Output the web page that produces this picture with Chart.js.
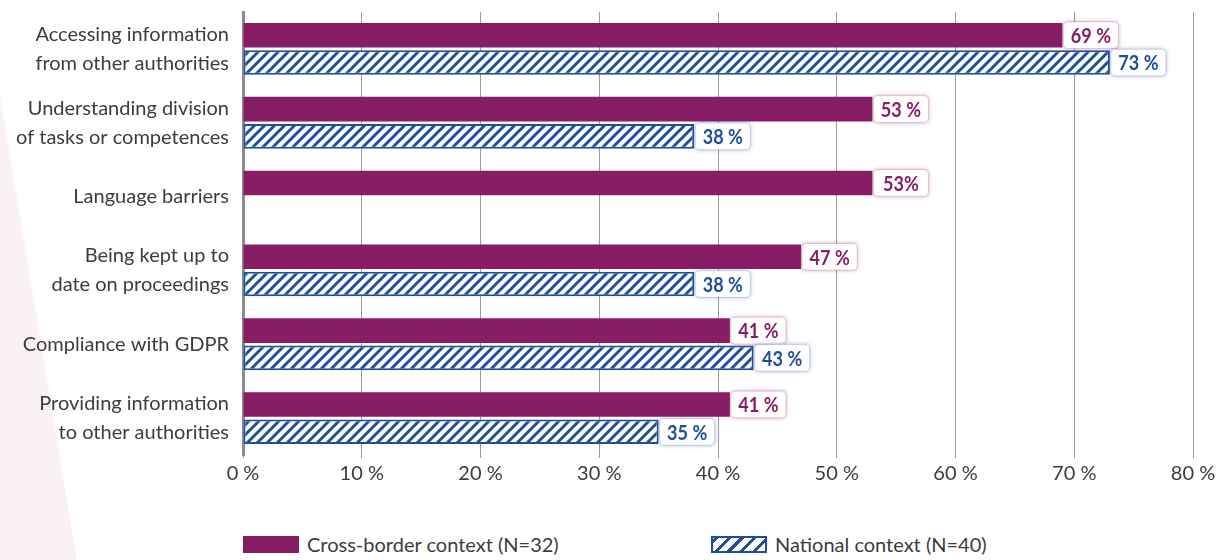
<!DOCTYPE html>
<html>
<head>
<meta charset="utf-8">
<script src="https://cdn.jsdelivr.net/npm/chart.js@4/dist/chart.umd.min.js"></script>
<style>
  html, body { margin: 0; padding: 0; background: #fff; }
  #wrap { position: relative; width: 1227px; height: 560px; overflow: hidden; }
  /* faint decorative wedge at the left edge */
  #wedge {
    position: absolute; left: 0; top: 0; width: 1227px; height: 560px;
    background: #f9f1f6;
    clip-path: polygon(0 95px, 77px 560px, 0 560px);
  }
  #chartBox { position: absolute; left: 0; top: 0; width: 1227px; height: 500px; }
  .legend-item {
    position: absolute; top: 532px; display: flex; align-items: center;
    font-family: Lato, "Open Sans", sans-serif; font-size: 20px; color: #3c3c3c;
  }
  .legend-item .swatch { width: 56px; height: 17px; margin-right: 8px; box-sizing: border-box; }
  .swatch.cross { background: #871d64; }
  .swatch.national {
    border: 2px solid #1f4e9c;
    background: repeating-linear-gradient(-45deg, #fff 0 6px, #1f4e9c 6px 9px);
  }
</style>
</head>
<body>
<div id="wrap">
  <div id="wedge"></div>
  <div id="chartBox"><canvas id="chart"></canvas></div>
  <div class="legend-item" style="left:243px"><div class="swatch cross"></div><span>Cross-border context (N=32)</span></div>
  <div class="legend-item" style="left:711px"><div class="swatch national"></div><span>National context (N=40)</span></div>
</div>
<script>
// カテゴリーとデータ
const categories = [
  ['Accessing information', 'from other authorities'],
  ['Understanding division', 'of tasks or competences'],
  'Language barriers',
  ['Being kept up to', 'date on proceedings'],
  'Compliance with GDPR',
  ['Providing information', 'to other authorities']
];
const crossBorder = [69, 53, 53, 47, 41, 41];
const national = [73, 38, null, 38, 43, 35];
// ラベルの数値と % の間の区切り
const crossSep = [' ', ' ', '', ' ', ' ', ' '];
const nationalSep = [' ', ' ', ' ', ' ', ' ', ' '];
const xTicks = [0, 10, 20, 30, 40, 50, 60, 70, 80];

const PURPLE = '#871d64';
const BLUE = '#1f4e9c';

// 斜線パターンの作成
function makeHatch() {
  const size = 10;
  const c = document.createElement('canvas');
  c.width = size; c.height = size;
  const g = c.getContext('2d');
  g.fillStyle = '#fff';
  g.fillRect(0, 0, size, size);
  g.strokeStyle = BLUE;
  g.lineWidth = 3;
  g.beginPath();
  g.moveTo(-2, size + 2); g.lineTo(size + 2, -2);
  g.moveTo(-2, 2); g.lineTo(2, -2);
  g.moveTo(size - 2, size + 2); g.lineTo(size + 2, size - 2);
  g.stroke();
  return g.createPattern(c, 'repeat');
}

// 値ラベル（白い枠付き）
const valueLabels = {
  id: 'valueLabels',
  afterDatasetsDraw(chart) {
    const ctx = chart.ctx;
    const seps = [crossSep, nationalSep];
    const colors = [PURPLE, BLUE];
    const glow = ['rgba(135,29,100,0.45)', 'rgba(31,78,156,0.45)'];
    chart.data.datasets.forEach((ds, di) => {
      const meta = chart.getDatasetMeta(di);
      meta.data.forEach((bar, i) => {
        const v = ds.data[i];
        if (v === null || v === undefined) return;
        const w = 55, h = bar.height + 2;
        const x = bar.x + 1, y = bar.y - h / 2;
        ctx.save();
        ctx.shadowColor = glow[di];
        ctx.shadowBlur = 4;
        ctx.fillStyle = '#fff';
        ctx.beginPath();
        ctx.roundRect(x, y, w, h, 4);
        ctx.fill();
        ctx.shadowBlur = 0;
        ctx.strokeStyle = di === 0 ? 'rgba(135,29,100,0.18)' : 'rgba(31,78,156,0.18)';
        ctx.lineWidth = 1;
        ctx.stroke();
        // 細めの太字に見せるため横方向に縮める
        ctx.translate(x + w / 2, bar.y + 1);
        ctx.scale(0.86, 1);
        ctx.fillStyle = colors[di];
        ctx.font = 'bold 21px Lato, "Open Sans", sans-serif';
        ctx.textAlign = 'center';
        ctx.textBaseline = 'middle';
        ctx.fillText(v + seps[di][i] + '%', 0, 0);
        ctx.restore();
      });
    });
  }
};

new Chart(document.getElementById('chart'), {
  type: 'bar',
  data: {
    labels: categories,
    datasets: [
      {
        label: 'Cross-border context (N=32)',
        data: crossBorder,
        backgroundColor: PURPLE,
        borderWidth: 0,
        categoryPercentage: 0.74,
        barPercentage: 0.9
      },
      {
        label: 'National context (N=40)',
        data: national,
        backgroundColor: makeHatch(),
        borderColor: BLUE,
        borderWidth: 2,
        borderSkipped: false,
        categoryPercentage: 0.74,
        barPercentage: 0.9
      }
    ]
  },
  options: {
    indexAxis: 'y',
    responsive: true,
    maintainAspectRatio: false,
    animation: false,
    layout: { padding: { top: 12, right: 34, left: 0, bottom: 0 } },
    plugins: {
      legend: { display: false },
      tooltip: { enabled: false }
    },
    scales: {
      x: {
        min: 0,
        max: 80,
        afterBuildTicks: axis => { axis.ticks = xTicks.map(v => ({ value: v })); },
        ticks: {
          callback: v => v + ' %',
          color: '#3c3c3c',
          font: { family: 'Lato, "Open Sans", sans-serif', size: 20 },
          padding: 4
        },
        grid: {
          color: '#9a9a9a',
          lineWidth: 1,
          tickLength: 3
        },
        border: { display: false },
        afterFit: axis => { axis.height = 45; axis.paddingLeft = 0; axis.paddingRight = 0; }
      },
      y: {
        ticks: {
          color: '#3c3c3c',
          font: { family: 'Lato, "Open Sans", sans-serif', size: 20, lineHeight: 1.45 },
          padding: 6
        },
        grid: { display: false },
        border: { display: true, color: '#8c8c8c', width: 3 },
        afterFit: axis => { axis.width = 243; axis.paddingTop = 0; axis.paddingBottom = 0; }
      }
    }
  },
  plugins: [valueLabels]
});
</script>
</body>
</html>
